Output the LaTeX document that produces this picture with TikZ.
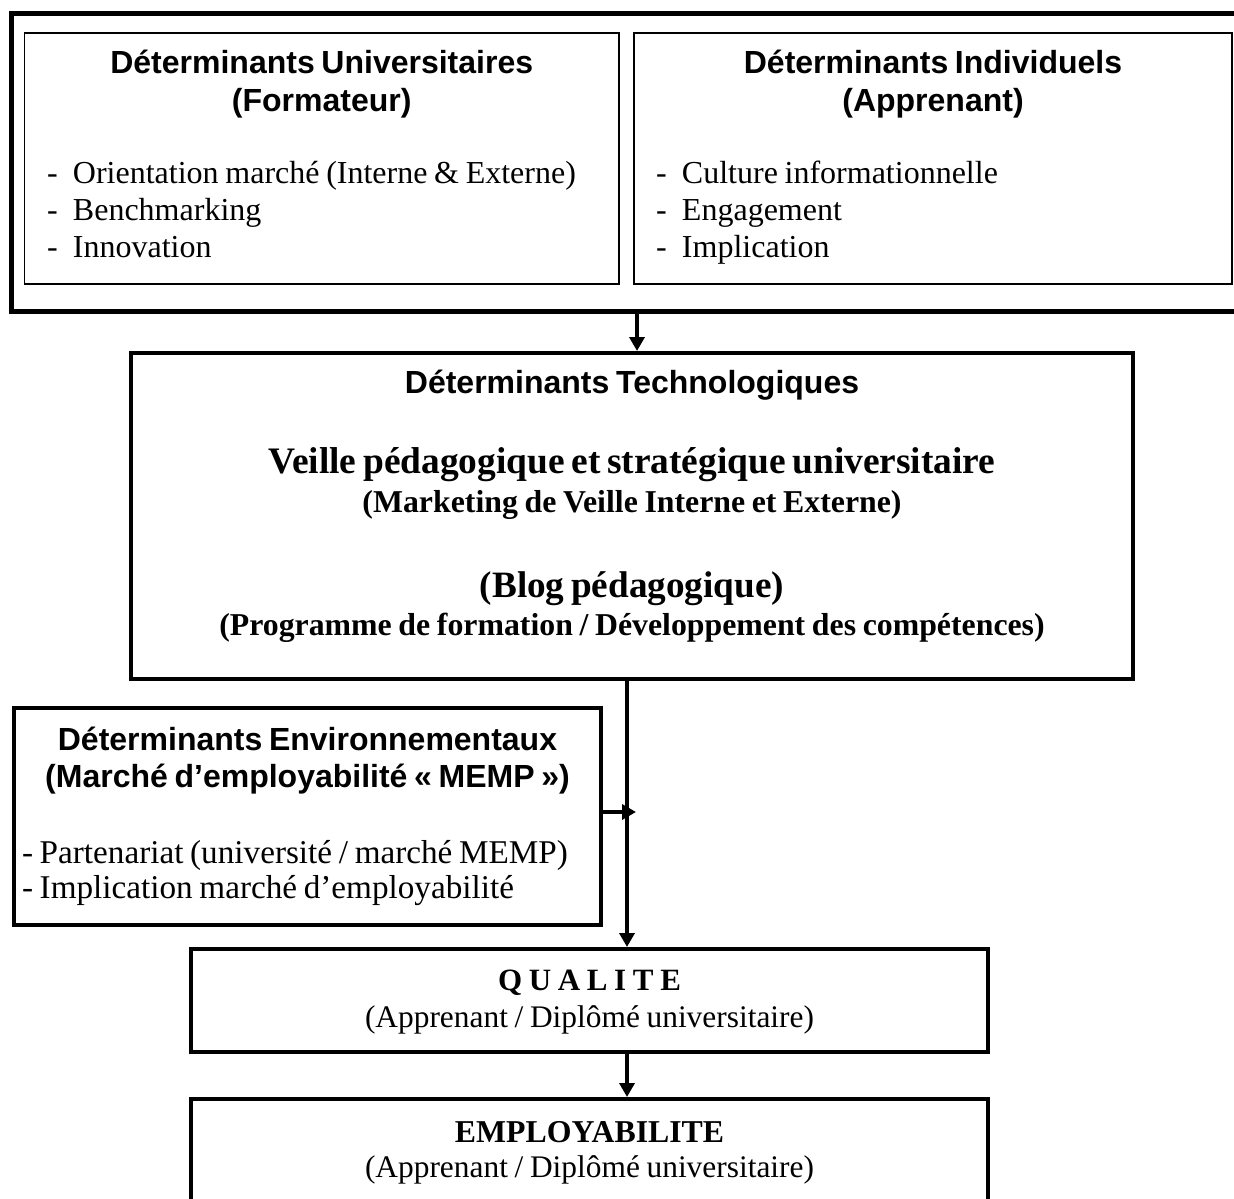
\documentclass[tikz,border=0pt]{standalone}
\usepackage{fontspec}
\setmainfont{Liberation Serif}
\setsansfont{Liberation Sans}
\usetikzlibrary{arrows.meta}
\newcommand{\entetefont}{\sffamily\bfseries\fontsize{16}{19}\selectfont}
\newcommand{\corpsfont}{\fontsize{16}{18.5}\selectfont}
\newcommand{\tiret}{\makebox[13pt][l]{-}}

\begin{document}
\begin{tikzpicture}[x=0.5pt,y=-0.5pt,
    thinbox/.style={draw,line width=0.8pt,inner ysep=0pt,align=center},
    thickbox/.style={draw,line width=2pt,inner ysep=0pt,align=center},
    arr/.style={line width=2pt,-{Triangle[length=7pt,width=7.5pt]}}]
  \useasboundingbox (0,0) rectangle (1234,1198);
  \clip (0,0) rectangle (1234,1198);
  \node [draw,line width=2.5pt,minimum width=617pt,minimum height=148.5pt](determ) at (628,162.5) {};
  \node [thinbox,inner xsep=11.25pt,text width=274.75pt,text height=20.5pt,text depth=105pt](univ) at (321.75,158.5) {
    {\entetefont Déterminants Universitaires\\(Formateur)\par}
    \vspace{17.5pt}
    {\corpsfont\raggedright\tiret Orientation marché (Interne \& Externe)\\
     \tiret Benchmarking\\
     \tiret Innovation\par}};
  \node [thinbox,inner xsep=11pt,text width=277pt,text height=20.5pt,text depth=105pt](indiv) at (933,158.5) {
    {\entetefont Déterminants Individuels\\(Apprenant)\par}
    \vspace{17.5pt}
    {\corpsfont\raggedright\tiret Culture informationnelle\\
     \tiret Engagement\\
     \tiret Implication\par}};
  \node [thickbox,inner xsep=10.5pt,text width=480pt,text height=20pt,text depth=143pt](tech) at (632,516) {
    {\entetefont Déterminants Technologiques\par}
    \vspace{18pt}
    {\fontsize{18.7}{22}\selectfont\bfseries Veille pédagogique et stratégique universitaire\par}
    {\fontsize{15.9}{19.5}\selectfont\bfseries (Marketing de Veille Interne et Externe)\par}
    \vspace{20.5pt}
    {\fontsize{18.6}{22}\selectfont\bfseries (Blog pédagogique)\par}
    {\fontsize{15.9}{19}\selectfont\bfseries (Programme de formation / Développement des compétences)\par}};
  \node [thickbox,inner xsep=4pt,text width=285.5pt,text height=21pt,text depth=87.5pt](env) at (307.5,816.5) {
    {\sffamily\bfseries\fontsize{16}{18.5}\selectfont Déterminants Environnementaux\\(Marché d’employabilité «~MEMP~»)\par}
    \vspace{20.5pt}
    {\fontsize{16.6}{17.5}\selectfont\raggedright - Partenariat (université / marché MEMP)\\
     - Implication marché d’employabilité\par}};
  \node [thickbox,inner xsep=9.25pt,text width=380pt,text height=20.5pt,text depth=31pt](qual) at (589.5,1000.5) {
    {\fontsize{15.5}{18}\selectfont\bfseries Q U A L I T E\par}
    {\fontsize{15.7}{18.5}\selectfont (Apprenant / Diplômé universitaire)\par}};
  \node [thickbox,inner xsep=9.25pt,text width=380pt,text height=21.5pt,text depth=36pt](emp) at (589.5,1156.5) {
    {\fontsize{15.9}{18}\selectfont\bfseries EMPLOYABILITE\par}
    {\fontsize{15.7}{17.5}\selectfont (Apprenant / Diplômé universitaire)\par}};
  \coordinate (xa) at (637,0);
  \coordinate (xb) at (627,0);
  \coordinate (join) at (636,812);
  \draw [arr] (determ.south -| xa) -- (tech.north -| xa);
  \draw [arr] (tech.south -| xb) -- (qual.north -| xb);
  \draw [arr] (env.east |- join) -- (join);
  \draw [arr] (qual.south -| xb) -- (emp.north -| xb);
\end{tikzpicture}
\end{document}
